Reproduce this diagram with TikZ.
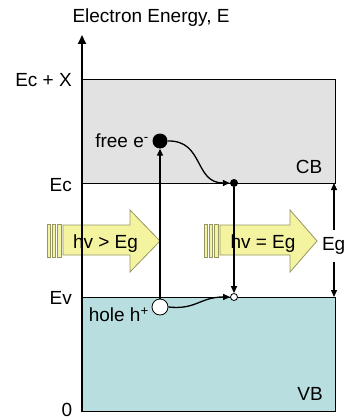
\documentclass[tikz,border=0pt]{standalone}
\usepackage{fontspec}
\setmainfont{Liberation Sans}
\usetikzlibrary{arrows.meta}
\definecolor{cbgray}{RGB}{226,226,226}
\definecolor{vbteal}{RGB}{184,222,224}
\definecolor{phfill}{RGB}{244,244,160}
\definecolor{phline}{RGB}{150,150,100}
\begin{document}
\begin{tikzpicture}[x=1pt,y=-1pt,
  font=\fontsize{19}{22}\selectfont,
  band/.style={draw=black,line width=0.9pt},
  photon/.style={fill=phfill,draw=phline,line width=0.8pt},
  axisline/.style={line width=2pt,-{Triangle[length=9pt,width=8pt]}},
  trans/.style={line width=1.3pt,-{Triangle[length=7pt,width=6pt]}},
  lbl/.style={inner sep=0pt},
  elecbig/.style={circle,fill=black,inner sep=0pt,minimum size=15pt},
  holebig/.style={circle,draw=black,fill=white,line width=0.8pt,inner sep=0pt,minimum size=16pt},
  elecsmall/.style={circle,fill=black,inner sep=0pt,minimum size=8pt},
  holesmall/.style={circle,draw=black,fill=white,line width=0.8pt,inner sep=0pt,minimum size=7pt}]
\useasboundingbox (0,0) rectangle (346,420);
% bands
\draw[band,fill=cbgray] (82,79) rectangle (335,183);
\draw[band,fill=vbteal] (82,297) rectangle (335,411);
% photon 1
\draw[photon] (47,224) rectangle (50,257);
\draw[photon] (52,224) rectangle (55,257);
\draw[photon] (57,224) rectangle (61,257);
\draw[photon] (63,225) -- (130,225) -- (130,210) -- (160,241) -- (130,272) -- (130,255) -- (63,255) -- cycle;
\node[lbl,anchor=base] (p1) at (105.5,248) {hv > Eg};
% photon 2
\draw[photon] (204,224) rectangle (207,257);
\draw[photon] (209,224) rectangle (212,257);
\draw[photon] (214,224) rectangle (218,257);
\draw[photon] (220,225) -- (290,225) -- (290,210) -- (317,241) -- (290,272) -- (290,255) -- (220,255) -- cycle;
\node[lbl,anchor=base] (p2) at (263,248) {hv = Eg};
% axis
\coordinate (axB) at (82,412);
\coordinate (axT) at (82,35);
\draw[axisline] (axB) -- (axT);
\node[lbl] (title) at (151,18) {Electron Energy, E};
\node[lbl,anchor=east] (lEcX) at (72,80) {Ec + X};
\node[lbl,anchor=east] (lEc) at (72,185) {Ec};
\node[lbl,anchor=east] (lEv) at (72,298) {Ev};
\node[lbl] (l0) at (67,410) {0};
\node[lbl] (lCB) at (309,167) {CB};
\node[lbl] (lVB) at (310,394) {VB};
% Eg arrow
\coordinate (egT) at (334,183);
\coordinate (egB) at (334,297);
\draw[line width=1.3pt,{Triangle[length=7pt,width=6pt]}-{Triangle[length=7pt,width=6pt]}] (egT) -- (egB);
\node[lbl,anchor=east,fill=white,inner ysep=7pt,inner xsep=0.5pt] (lEg) at (346,246) {Eg};
% carriers
\node[elecbig] (e1) at (160,141) {};
\node[holebig] (h1) at (160,307) {};
\node[elecsmall] (e2) at (234,183) {};
\node[holesmall] (h2) at (234,297) {};
\draw[trans] (h1) -- (e1);
\draw[trans] (e1.east) .. controls (204,140) and (194,183) .. (e2.west);
\draw[trans] (e2) -- (h2);
\draw[trans] (h1.east) .. controls (196,310) and (200,297) .. (h2.west);
\node[lbl,anchor=east] (lfree) at (149,141) {free e\textsuperscript{-}};
\node[lbl,anchor=east] (lhole) at (149,315) {hole h\textsuperscript{+}};
\end{tikzpicture}
\end{document}
